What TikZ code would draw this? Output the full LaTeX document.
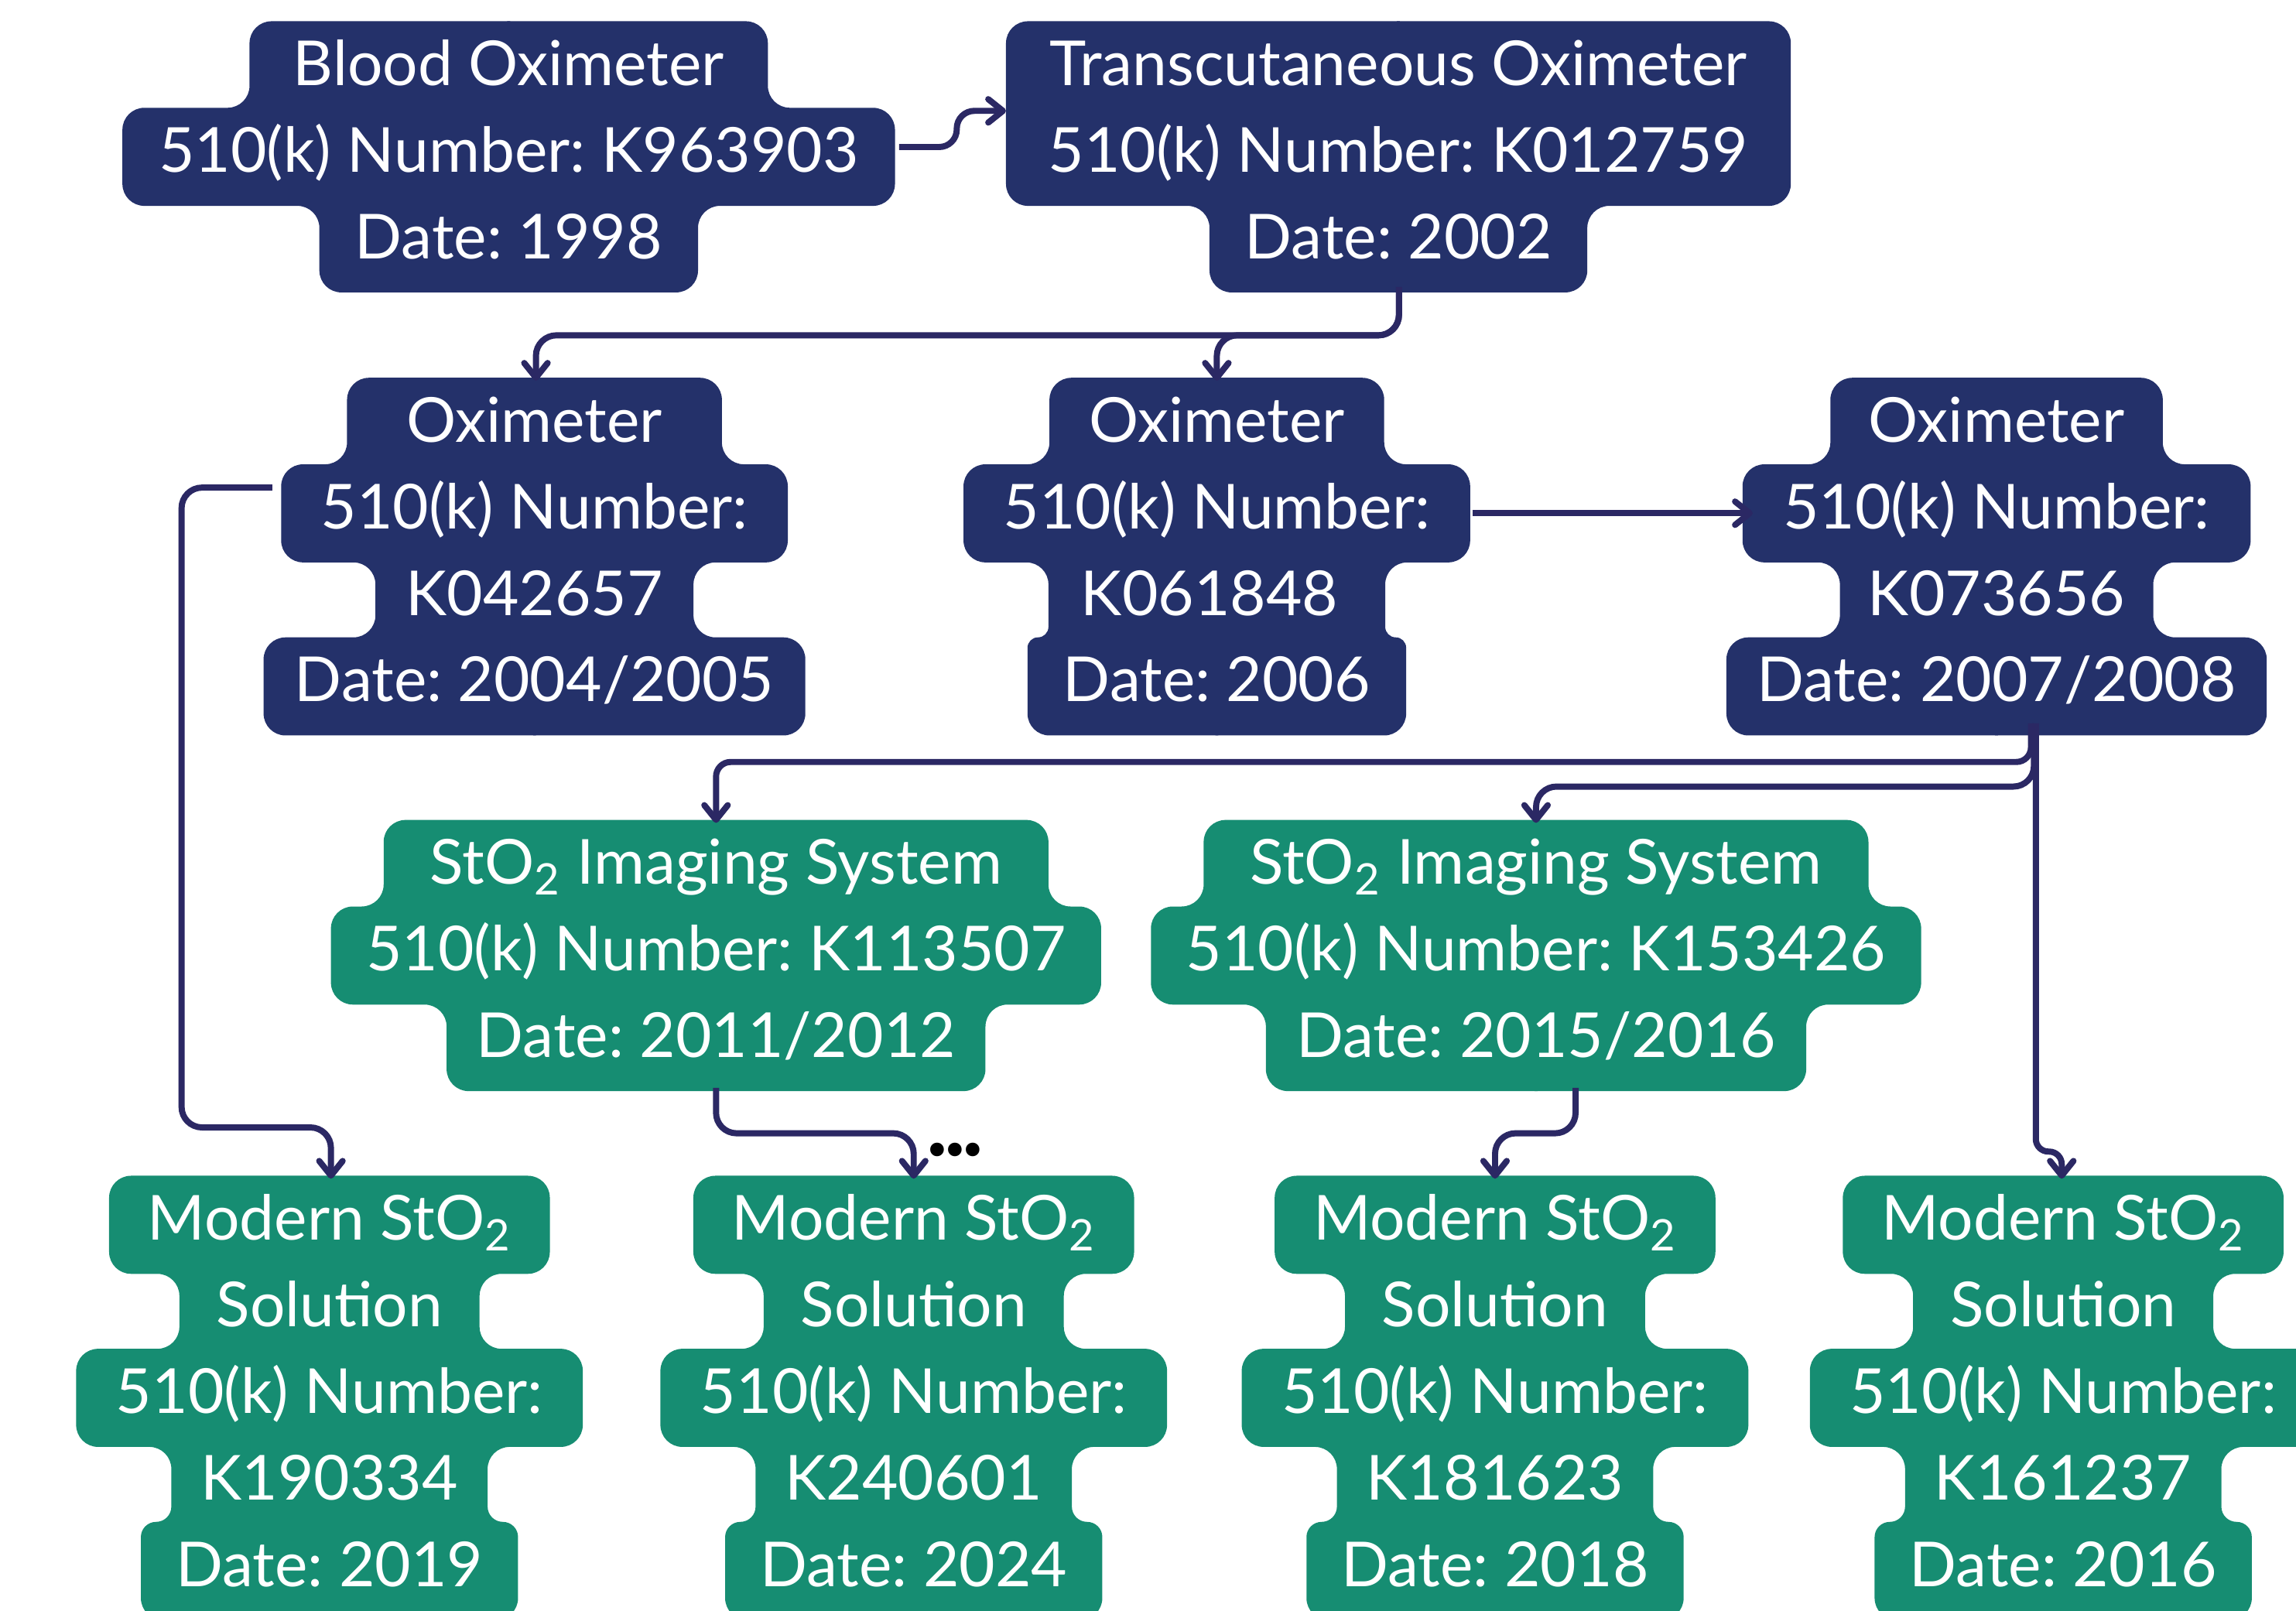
\documentclass[tikz,border=0pt]{standalone}
\usepackage{fontspec}
\setmainfont{Lato}
\newfontfamily\dotfont{DejaVu Sans}
\usetikzlibrary{arrows.meta}

\definecolor{navybox}{RGB}{36,49,106}
\definecolor{greenbox}{RGB}{22,141,114}
\definecolor{wirecol}{RGB}{43,40,100}

% geometry of the stacked label boxes
\def\pzR{15}    % corner radius
\def\pzP{59.1}  % distance between text lines
\def\pzH{67}    % height of one line's box

% \puzzle{colour}{centre x}{top y}{half-widths of the lines, top to bottom}
% fills the outline made of one rounded box per text line, with
% rounded inner corners where the width changes
\newcommand\puzzle[4]{%
  \gdef\pzpath{}%
  \foreach \w [count=\i] in {#4}{%
    \ifnum\i=1
      \pgfmathsetmacro\pza{\w-\pzR}%
      \xdef\pzpath{(-1,#3) -- (\pza,#3) arc[start angle=-90,end angle=0,radius=\pzR]}%
    \else
      \pgfmathsetmacro\pzd{\w-\pzpw}%
      \ifdim\pzd pt>0.5pt
        \pgfmathsetmacro\pzy{#3+(\i-1)*\pzP}%
        \pgfmathsetmacro\pzr{min(\pzR,\pzd/2)}%
        \pgfmathsetmacro\pzya{\pzy-\pzr}%
        \pgfmathsetmacro\pzxa{\w-\pzr}%
        \xdef\pzpath{\pzpath -- (\pzpw,\pzya) arc[start angle=180,end angle=90,radius=\pzr] -- (\pzxa,\pzy) arc[start angle=-90,end angle=0,radius=\pzr]}%
      \else
        \ifdim\pzd pt<-0.5pt
          \pgfmathsetmacro\pzy{#3+(\i-2)*\pzP+\pzH}%
          \pgfmathsetmacro\pzr{min(\pzR,-\pzd/2)}%
          \pgfmathsetmacro\pzya{\pzy-\pzr}%
          \pgfmathsetmacro\pzxa{\w+\pzr}%
          \xdef\pzpath{\pzpath -- (\pzpw,\pzya) arc[start angle=0,end angle=90,radius=\pzr] -- (\pzxa,\pzy) arc[start angle=270,end angle=180,radius=\pzr]}%
        \fi
      \fi
    \fi
    \xdef\pzpw{\w}\xdef\pzn{\i}%
  }%
  \pgfmathsetmacro\pzB{#3+(\pzn-1)*\pzP+\pzH}%
  \pgfmathsetmacro\pzya{\pzB-\pzR}%
  \xdef\pzpath{\pzpath -- (\pzpw,\pzya) arc[start angle=0,end angle=90,radius=\pzR] -- (-1,\pzB) -- cycle}%
  \edef\pzdo{\noexpand\fill[#1] \pzpath;}%
  \begin{scope}[shift={(#2,0)}]\pzdo\end{scope}%
  \begin{scope}[shift={(#2,0)},xscale=-1]\pzdo\end{scope}%
}

\begin{document}
\frenchspacing
\begin{tikzpicture}[x=0.5pt,y=-0.5pt,
  txt/.style={text=white, font=\fontsize{21.2}{25}\selectfont, inner sep=0pt, anchor=base},
  wire/.style={draw=wirecol, line width=2.1pt, rounded corners=7pt,
    -{Straight Barb[length=5pt,width=8pt,round]}}]
\useasboundingbox (0,0) rectangle (1568,1100);
\clip (0,0) rectangle (1568,1100);

% ---- box outlines ----
\puzzle{navybox}{347.4}{14.5}{177,263.8,129.3}
\puzzle{navybox}{955}{14.5}{268,268,129}
\puzzle{navybox}{365}{258}{128,173,108.6,185}
\puzzle{navybox}{831}{258}{114.3,173,115,129.3}
\puzzle{navybox}{1363.5}{258}{113.5,173.5,107,184.5}
\puzzle{greenbox}{489}{560}{227,263,184}
\puzzle{greenbox}{1049}{560}{227,263,184.5}
\puzzle{greenbox}{225}{803}{150.5,102.5,173,108,128.8}
\puzzle{greenbox}{624}{803}{150.5,102.5,173,108,128.8}
\puzzle{greenbox}{1021}{803}{150.5,102.5,173,108,128.8}
\puzzle{greenbox}{1409}{803}{150.5,102.5,173,108,128.8}

% ---- labels ----
\node[txt] (bo1) at (347.4,58.5) {Blood Oximeter};
\node[txt] (bo2) at (347.4,117.6) {510(k) Number: K963903};
\node[txt] (bo3) at (347.4,176.7) {Date: 1998};

\node[txt] (tc1) at (955,58.5) {Transcutaneous Oximeter};
\node[txt] (tc2) at (955,117.6) {510(k) Number: K012759};
\node[txt] (tc3) at (955,176.7) {Date: 2002};

\node[txt] (oxa1) at (365,302) {Oximeter};
\node[txt] (oxa2) at (365,361.1) {510(k) Number:};
\node[txt] (oxa3) at (365,420.2) {K042657};
\node[txt] (oxa4) at (365,479.3) {Date: 2004/2005};

\node[txt] (oxb1) at (831,302) {Oximeter};
\node[txt] (oxb2) at (831,361.1) {510(k) Number:};
\node[txt] (oxb3) at (826,420.2) {K061848};
\node[txt] (oxb4) at (831,479.3) {Date: 2006};

\node[txt] (oxc1) at (1363.5,302) {Oximeter};
\node[txt] (oxc2) at (1363.5,361.1) {510(k) Number:};
\node[txt] (oxc3) at (1363.5,420.2) {K073656};
\node[txt] (oxc4) at (1363.5,479.3) {Date: 2007/2008};

\node[txt] (sta1) at (489,604) {StO\textsubscript{2} Imaging System};
\node[txt] (sta2) at (489,663.1) {510(k) Number: K113507};
\node[txt] (sta3) at (489,722.2) {Date: 2011/2012};

\node[txt] (stb1) at (1049,604) {StO\textsubscript{2} Imaging System};
\node[txt] (stb2) at (1049,663.1) {510(k) Number: K153426};
\node[txt] (stb3) at (1049,722.2) {Date: 2015/2016};

\node[txt] (mda1) at (225,847) {Modern StO\textsubscript{2}};
\node[txt] (mda2) at (225,906.1) {Solution};
\node[txt] (mda3) at (225,965.2) {510(k) Number:};
\node[txt] (mda4) at (225,1024.3) {K190334};
\node[txt] (mda5) at (225,1083.4) {Date: 2019};

\node[txt] (mdb1) at (624,847) {Modern StO\textsubscript{2}};
\node[txt] (mdb2) at (624,906.1) {Solution};
\node[txt] (mdb3) at (624,965.2) {510(k) Number:};
\node[txt] (mdb4) at (624,1024.3) {K240601};
\node[txt] (mdb5) at (624,1083.4) {Date: 2024};

\node[txt] (mdc1) at (1021,847) {Modern StO\textsubscript{2}};
\node[txt] (mdc2) at (1021,906.1) {Solution};
\node[txt] (mdc3) at (1021,965.2) {510(k) Number:};
\node[txt] (mdc4) at (1021,1024.3) {K181623};
\node[txt] (mdc5) at (1021,1083.4) {Date: 2018};

\node[txt] (mdd1) at (1409,847) {Modern StO\textsubscript{2}};
\node[txt] (mdd2) at (1409,906.1) {Solution};
\node[txt] (mdd3) at (1409,965.2) {510(k) Number:};
\node[txt] (mdd4) at (1409,1024.3) {K161237};
\node[txt] (mdd5) at (1409,1083.4) {Date: 2016};

\node[font=\dotfont\fontsize{16}{16}\selectfont, text=black, inner sep=0pt]
  (more) at (652.3,789) {•\kern-3.4pt•\kern-3.4pt•};

% ---- connection points ----
\coordinate (bo-out) at (614,100.4);
\coordinate (tc-in) at (687,75.7);
\coordinate (tc-out) at (955.4,196);
\coordinate (oxa-in) at (366,260);
\coordinate (oxb-in) at (831,260);
\coordinate (oxa-out) at (186,333);
\coordinate (oxb-out) at (1005.6,350.5);
\coordinate (oxc-in) at (1197,350.5);
\coordinate (oxc-outa) at (1387,494);
\coordinate (oxc-outb) at (1389,494);
\coordinate (oxc-outc) at (1390.3,494);
\coordinate (sta-in) at (489,562);
\coordinate (stb-in) at (1049,562);
\coordinate (sta-out) at (489,743);
\coordinate (stb-out) at (1076,743);
\coordinate (mda-in) at (226,805);
\coordinate (mdb-in) at (624,805);
\coordinate (mdc-in) at (1021,805);
\coordinate (mdd-in) at (1408,805);

% ---- connectors ----
\draw[wire, rounded corners=6pt] (bo-out) -- ++(39.4,0) |- (tc-in);
\draw[wire] (tc-out) -- ++(0,33) -| (oxa-in);
\draw[wire] (tc-out) -- ++(0,33) -| (oxb-in);
\draw[wire] (oxb-out) -- (oxc-in);
\draw[wire] (oxa-out) -| (124,770) -| (mda-in);
\draw[wire, rounded corners=5pt] (oxc-outa) -- ++(0,26.4) -| (sta-in);
\draw[wire] (oxc-outb) -- ++(0,43.2) -| (stb-in);
\draw[wire, rounded corners=4.3pt] (oxc-outc) -- ++(0,292.5) -| (mdd-in);
\draw[wire] (sta-out) -- ++(0,31) -| (mdb-in);
\draw[wire] (stb-out) -- ++(0,31) -| (mdc-in);
\end{tikzpicture}
\end{document}
